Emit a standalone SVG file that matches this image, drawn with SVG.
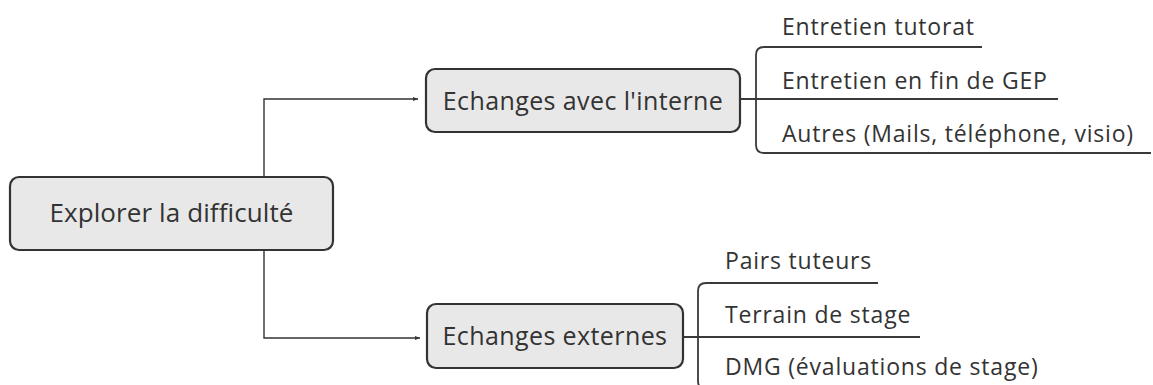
<svg xmlns="http://www.w3.org/2000/svg" width="1153" height="385" viewBox="0 0 1153 385">
<defs>
<style>
.node rect{fill:#e8e8e8;stroke:#333;stroke-width:2.2}
.nt{font-family:"Open Sans","Noto Sans",sans-serif;font-size:25px;font-weight:500;letter-spacing:0.4px;fill:#333;text-anchor:middle}
.lt{font-family:"Open Sans","Noto Sans",sans-serif;font-size:23px;letter-spacing:0.8px;fill:#333}
.conn{fill:none;stroke:#333;stroke-width:1.4}
.br{fill:none;stroke:#3a3a3a;stroke-width:1.8}
</style>
<marker id="arr" viewBox="0 0 10 10" refX="10" refY="5" markerWidth="5" markerHeight="5" orient="auto" markerUnits="userSpaceOnUse">
<path d="M0,1 L10,5 L0,9 Z" fill="#333"/>
</marker>
</defs>
<rect width="1153" height="385" fill="#fff"/>
<g id="connectors">
<path class="conn" d="M264,177 V99 H418" marker-end="url(#arr)"/>
<path class="conn" d="M264,250 V338 H420" marker-end="url(#arr)"/>
<path class="br" d="M740,99 H1058"/>
<path class="br" d="M982,47 H764 Q756,47 756,55 V145 Q756,153 764,153 H1151"/>
<path class="br" d="M683,337 H920"/>
<path class="br" d="M878,283 H706 Q698,283 698,291 V381 Q698,389 706,389 H1100"/>
</g>
<g id="root" class="node">
<rect x="10" y="177" width="323" height="73" rx="9"/>
<text class="nt" x="171.5" y="222" style="font-size:26px;letter-spacing:0.1px">Explorer la difficulté</text>
</g>
<g id="internal" class="node">
<rect x="426" y="69" width="314" height="63" rx="9"/>
<text class="nt" x="583" y="110">Echanges avec l'interne</text>
</g>
<g id="external" class="node">
<rect x="427" y="304" width="256" height="64" rx="9"/>
<text class="nt" x="555" y="345">Echanges externes</text>
</g>
<g id="leaf1"><text class="lt" x="782" y="35">Entretien tutorat</text></g>
<g id="leaf2"><text class="lt" x="782" y="89">Entretien en fin de GEP</text></g>
<g id="leaf3"><text class="lt" x="782" y="142">Autres (Mails, téléphone, visio)</text></g>
<g id="leaf4"><text class="lt" x="725" y="269">Pairs tuteurs</text></g>
<g id="leaf5"><text class="lt" x="725" y="323">Terrain de stage</text></g>
<g id="leaf6"><text class="lt" x="725" y="375">DMG (évaluations de stage)</text></g>
</svg>
